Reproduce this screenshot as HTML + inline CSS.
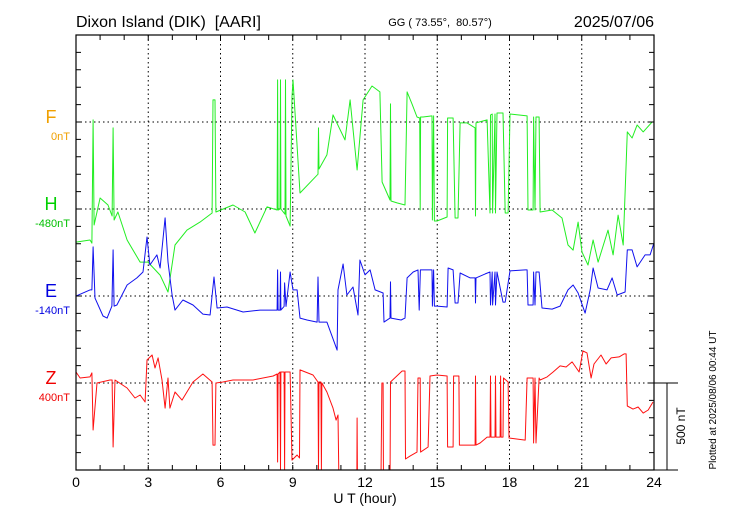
<!DOCTYPE html>
<html><head><meta charset="utf-8">
<style>
html,body{margin:0;padding:0;background:#fff;}
svg{display:block;font-family:"Liberation Sans",sans-serif;}
</style></head>
<body>
<svg id="chart" width="730" height="520" viewBox="0 0 730 520" xmlns="http://www.w3.org/2000/svg">
<defs><clipPath id="plotclip"><rect x="76" y="35" width="578" height="435"/></clipPath></defs>
<text x="76" y="27" font-size="16">Dixon Island (DIK)&#160;&#160;[AARI]</text>
<text x="440" y="26" font-size="11" text-anchor="middle">GG ( 73.55°,&#160;&#160;80.57°)</text>
<text x="654" y="27" font-size="16" text-anchor="end">2025/07/06</text>
<g id="grid"></g>
<g id="series" clip-path="url(#plotclip)"></g>
<g id="axes"></g>
<text x="51" y="123" font-size="18" fill="#f0a000" text-anchor="middle">F</text>
<text x="70" y="140" font-size="11" fill="#f0a000" text-anchor="end">0nT</text>
<text x="51" y="210" font-size="18" fill="#00d000" text-anchor="middle">H</text>
<text x="70" y="227" font-size="11" fill="#00c000" text-anchor="end">-480nT</text>
<text x="51" y="297" font-size="18" fill="#0000e0" text-anchor="middle">E</text>
<text x="70" y="314" font-size="11" fill="#0000e0" text-anchor="end">-140nT</text>
<text x="51" y="384" font-size="18" fill="#f00000" text-anchor="middle">Z</text>
<text x="70" y="401" font-size="11" fill="#f00000" text-anchor="end">400nT</text>
<text x="365" y="503" font-size="14" text-anchor="middle">U T (hour)</text>
<text transform="translate(685,426) rotate(-90)" font-size="12" text-anchor="middle">500 nT</text>
<text transform="translate(716,400) rotate(-90)" font-size="10" text-anchor="middle">Plotted at 2025/08/06 00:44 UT</text>
</svg>
<script>
const xTicks = ["0","3","6","9","12","15","18","21","24"];
const hHours = [0,0.58,0.66,0.71,0.75,1.0,1.33,1.5,1.54,1.58,1.74,2.12,2.66,2.99,3.49,3.82,4.11,4.61,5.15,5.65,5.69,5.77,5.81,6.52,7.02,7.43,7.93,8.35,8.37,8.39,8.47,8.49,8.51,8.68,8.7,8.72,8.89,8.97,9.01,9.3,10.05,10.07,10.09,10.42,10.67,11.17,11.38,11.67,11.92,12.29,12.62,12.71,13.04,13.06,13.08,13.33,13.66,13.75,13.95,14.16,14.27,14.29,14.31,14.41,14.78,14.8,14.85,14.88,14.99,15.41,15.43,15.66,15.74,15.86,15.95,16.24,16.57,16.59,16.61,17.07,17.19,17.21,17.28,17.3,17.4,17.42,17.48,17.73,17.82,17.94,18.02,18.73,18.77,18.98,19.0,19.06,19.1,19.23,19.27,19.77,20.18,20.43,20.64,20.85,21.01,21.26,21.47,21.68,22.09,22.3,22.51,22.72,22.89,23.09,23.3,23.55,23.92,24];
const hValues = [-190,-178,-196,512,-92,63,23,-40,466,-63,-17,-178,-305,-305,-380,-477,-207,-121,-75,-23,627,627,-17,23,-17,-138,12,-6,742,-6,0,742,0,-30,742,-40,-98,644,742,92,200,466,230,311,541,397,627,224,627,707,673,155,52,604,46,35,23,673,604,529,523,-6,529,529,535,-63,535,-69,-69,-46,523,523,-52,-52,495,495,466,-40,495,512,-23,540,546,-23,546,-23,552,552,-23,-23,546,535,-6,-6,529,-6,529,529,-17,-6,-52,-207,-236,-75,-247,-322,-178,-305,-121,-264,-35,-207,443,408,483,443,500,500];
const eHours = [0,0.58,0.66,0.71,0.79,1.12,1.29,1.49,1.54,1.58,1.7,2.12,2.53,2.78,2.95,3.07,3.36,3.49,3.7,3.82,3.99,4.11,4.44,4.86,5.27,5.57,5.73,5.86,6.27,6.94,7.64,8.35,8.37,8.39,8.47,8.49,8.51,8.64,8.66,8.72,8.89,9.01,9.18,9.3,9.59,10.01,10.05,10.09,10.42,10.84,10.88,11.09,11.25,11.5,11.71,11.79,12.0,12.21,12.42,12.75,12.79,13.04,13.06,13.08,13.5,13.66,13.75,14.0,14.2,14.25,14.3,14.78,14.8,14.85,14.88,14.99,15.41,15.45,15.66,15.74,15.86,15.95,16.37,16.57,16.59,16.61,16.99,17.19,17.21,17.28,17.3,17.4,17.42,17.48,17.73,17.82,18.02,18.65,18.73,18.77,18.98,19.0,19.06,19.1,19.23,19.35,19.77,20.1,20.43,20.64,20.85,21.14,21.35,21.47,21.68,22.05,22.26,22.47,22.8,22.89,23.09,23.3,23.63,23.84,24];
const eValues = [0,35,35,282,-12,-115,-127,-58,265,-58,-52,63,104,138,339,178,236,161,449,196,6,-81,-23,-52,-104,-109,109,-69,-63,-92,-81,-81,150,-81,-81,138,-81,-60,75,-60,138,35,35,-127,-138,-150,109,-150,-150,-311,35,184,6,52,-109,207,121,150,35,17,-150,-127,81,-127,-138,-127,104,138,150,-81,150,150,-58,150,-58,-58,-63,161,150,-40,-40,132,104,104,-40,104,127,138,-52,138,-52,138,-52,138,-35,-35,144,150,150,-52,-52,138,-52,138,138,-69,-75,-58,35,63,17,-98,35,161,46,35,104,6,23,265,265,167,236,236,305];
const zHours = [0,0.17,0.58,0.66,0.71,0.87,1.41,1.5,1.54,1.62,2.12,2.45,2.66,2.87,2.95,3.16,3.28,3.41,3.57,3.7,3.82,3.9,4.11,4.4,4.86,5.27,5.65,5.69,5.77,5.81,6.1,6.52,7.35,8.19,8.35,8.37,8.39,8.47,8.49,8.51,8.64,8.66,8.68,8.89,8.97,9.18,9.28,9.3,9.84,10.05,10.07,10.09,10.17,10.19,10.21,10.42,10.67,10.8,10.88,10.92,11.66,11.67,11.69,12.66,12.7,12.75,12.77,13.04,13.06,13.54,13.66,13.68,13.87,14.16,14.2,14.29,14.31,14.62,14.7,14.99,15.41,15.43,15.66,15.68,15.9,15.92,16.49,16.57,16.59,16.61,16.78,17.07,17.19,17.21,17.23,17.4,17.42,17.44,17.61,17.63,17.65,17.73,17.75,17.94,17.98,18.65,18.73,18.98,19.0,19.06,19.1,19.23,19.27,19.56,19.81,20.1,20.35,20.6,20.89,21.05,21.22,21.39,21.51,21.8,22.01,22.22,22.55,22.76,22.84,22.89,23.13,23.34,23.55,23.76,23.96];
const zValues = [63,29,35,58,-270,0,17,17,-368,17,-29,-86,-69,-109,132,161,86,144,17,-144,29,-144,-52,-98,6,52,6,-357,-357,0,6,17,17,40,52,-454,52,63,-500,63,63,-500,63,63,-443,-414,-431,75,46,6,-500,6,6,-500,0,-52,-144,-213,-184,-600,-600,-201,-600,-600,0,0,-600,-600,6,69,69,-437,-420,-397,29,29,-397,-368,40,46,40,-368,-368,40,40,-357,-357,-357,40,-357,-345,-311,-311,40,-311,-311,40,-311,-311,40,-311,-311,29,6,-316,-328,29,29,-345,29,-345,29,17,35,63,98,92,121,63,184,173,29,109,161,109,144,150,167,167,-132,-150,-138,-173,-155,-109];

const X0=76, X1=654, Y0=35, Y1=470;
const PX_PER_NT = 87/500;
const xs = h => X0 + h*(X1-X0)/24;
const ys = (base, v) => base - v*PX_PER_NT;
const NS="http://www.w3.org/2000/svg";
function mk(tag, attrs, parent){const e=document.createElementNS(NS,tag);for(const k in attrs)e.setAttribute(k,attrs[k]);parent.appendChild(e);return e;}

const grid=document.getElementById('grid');
[122,209,296,383].forEach(y=>{
  const l=mk('line',{x1:X0,x2:X1,y1:y,y2:y,stroke:'#000','stroke-width':1,'stroke-dasharray':'1.5,3'},grid);
  
  
});
for(let i=1;i<8;i++){
  const x=xs(i*3);
  const l=mk('line',{x1:x,x2:x,y1:Y0,y2:Y1,stroke:'#000','stroke-width':1,'stroke-dasharray':'1.5,3'},grid);
  
  
}

const series=document.getElementById('series');
function draw(hours, vals, base, color, name){
  let d='';
  for(let i=0;i<hours.length;i++){d+=(i?'L':'M')+xs(hours[i]).toFixed(1)+','+ys(base,vals[i]).toFixed(1);}
  const p=mk('path',{d:d,fill:'none',stroke:color,'stroke-width':1,'stroke-linejoin':'round'},series);
  
  
}
draw(hHours,hValues,209,'#22ee22','h-component-line');
draw(eHours,eValues,296,'#1010ee','e-component-line');
draw(zHours,zValues,383,'#ff1010','z-component-line');

const axes=document.getElementById('axes');
const frame=mk('rect',{x:X0,y:Y0,width:X1-X0,height:Y1-Y0,fill:'none',stroke:'#000','stroke-width':1.2},axes);


let td='';
for(let i=0;i<=24;i++){const x=xs(i);td+=`M${x},${Y0}v5M${x},${Y1}v-5`;}
for(let k=0;k<=25;k++){const y=Y1-k*17.4;if(y<Y0)break;td+=`M${X0},${y}h5M${X1},${y}h-5`;}
const ticks=mk('path',{d:td,stroke:'#000','stroke-width':1,fill:'none'},axes);


const sb=mk('path',{d:`M${X1},383H678M667,383V470M${X1},470H678`,stroke:'#000','stroke-width':1,fill:'none'},axes);


xTicks.forEach((t,i)=>{
  const e=mk('text',{x:xs(i*3),y:487,'font-size':14,'text-anchor':'middle'},axes);
  e.textContent=t;
  
  
});
</script>
</body></html>
